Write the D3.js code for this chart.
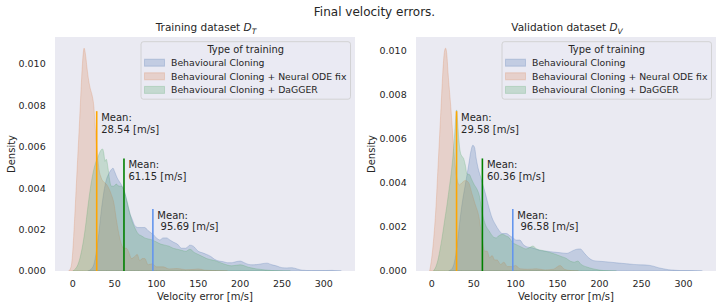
<!DOCTYPE html>
<html><head><meta charset="utf-8">
<script src="https://cdn.jsdelivr.net/npm/d3@7"></script>
<style>
html,body{margin:0;padding:0;background:#fff;}
svg{display:block;font-family:"DejaVu Sans",sans-serif;}
</style></head>
<body><svg id="c" width="723" height="308"></svg>
<script>
// ---------- data ----------
const seriesNames = ["Behavioural Cloning", "Behavioural Cloning + Neural ODE fix", "Behavioural Cloning + DaGGER"];
const legendTitle = "Type of training";
const xTicks = [0, 50, 100, 150, 200, 250, 300];
const yTicks = [0, 0.002, 0.004, 0.006, 0.008, 0.010];

// Training dataset: KDE points [velocity error, density]
const trainBC = [[18,0],[22,0.0001],[25,0.0003],[28,0.0009],[31,0.0018],[34,0.0029],[37,0.0038],[40,0.0044],[43,0.0047],[46,0.0049],[48,0.00497],[50,0.0048],[53,0.0045],[56,0.0043],[59,0.0041],[62,0.0038],[65,0.0033],[68,0.0028],[71,0.0025],[74,0.0022],[78,0.0021],[82,0.0021],[86,0.0021],[90,0.00195],[95,0.0018],[100,0.0016],[104,0.0015],[108,0.0016],[112,0.0016],[116,0.0015],[120,0.0014],[125,0.0013],[130,0.0011],[135,0.0011],[140,0.00125],[144,0.0012],[150,0.00095],[155,0.00088],[160,0.0008],[165,0.0007],[170,0.00055],[175,0.00048],[180,0.00045],[185,0.0004],[190,0.0004],[195,0.00045],[200,0.00048],[205,0.0004],[210,0.00032],[215,0.0003],[220,0.00031],[226,0.00035],[232,0.00038],[238,0.0003],[244,0.00024],[250,0.00016],[256,0.00015],[262,0.00016],[268,0.0001],[274,0.00004],[285,0.00002],[300,0.00002],[310,0.00003],[316,0.00001],[321,0]];
const trainODE = [[-5,0],[-3,0.0001],[-1,0.0005],[0,0.0010],[2,0.0024],[4,0.0040],[6,0.0056],[8,0.0072],[10,0.0089],[12,0.0103],[13.5,0.01077],[15,0.0105],[17,0.0098],[19,0.0092],[21,0.0088],[23,0.0085],[25,0.0080],[27,0.0068],[29,0.0058],[31,0.0050],[34,0.0045],[37,0.0043],[40,0.0042],[43,0.0040],[46,0.0037],[49,0.0033],[52,0.0025],[55,0.0018],[58,0.0013],[61,0.0011],[64,0.0011],[67,0.0009],[70,0.0006],[74,0.0007],[77,0.0008],[80,0.0005],[83,0.0006],[86,0.0006],[90,0.0003],[95,0.00035],[100,0.0002],[108,0.0002],[115,0.0001],[125,0.00012],[135,0.00006],[145,0.00008],[150,0.0001],[158,0.00004],[170,0.00002],[185,0]];
const trainDAG = [[0,0],[3,0.0001],[6,0.0003],[9,0.0007],[12,0.0013],[15,0.0021],[18,0.0031],[21,0.0040],[24,0.0047],[27,0.0052],[30,0.0055],[33,0.0058],[35.5,0.0059],[37,0.0057],[38.5,0.0053],[40,0.0054],[42,0.0050],[44,0.0044],[46,0.0041],[49,0.0041],[52,0.0042],[55,0.0041],[58,0.0041],[61,0.0039],[64,0.0035],[67,0.0030],[70,0.0025],[74,0.0021],[78,0.0018],[82,0.0017],[86,0.0016],[90,0.00155],[95,0.0015],[100,0.0014],[105,0.0013],[110,0.00125],[115,0.0012],[120,0.0011],[125,0.00105],[130,0.001],[135,0.00095],[140,0.00105],[145,0.0009],[150,0.0008],[155,0.0007],[160,0.0006],[170,0.0005],[180,0.00035],[190,0.00025],[200,0.0003],[210,0.00018],[220,0.0001],[230,0.00005],[245,0.00001],[260,0]];
const trainMeans = [95.69, 28.54, 61.15];

// Validation dataset
const valBC = [[20,0],[24,0.0001],[27,0.0004],[30,0.0011],[33,0.0021],[36,0.003],[39,0.0037],[41.3,0.0042],[44,0.0048],[46.5,0.0054],[49,0.0057],[51,0.0056],[53,0.0051],[56,0.00455],[58,0.0043],[61,0.0039],[64,0.0035],[68,0.0029],[72,0.0024],[76,0.0021],[80,0.00185],[84,0.0017],[89,0.0017],[93,0.0016],[97,0.0015],[101,0.0014],[105,0.0014],[109,0.0012],[113,0.0011],[120,0.00105],[129,0.00093],[137,0.0009],[145,0.00086],[153,0.00083],[161,0.0008],[167,0.0009],[172,0.00098],[177,0.001],[182,0.0008],[187,0.0006],[193,0.00047],[200,0.00044],[207,0.00042],[213,0.0004],[220,0.00037],[226,0.00035],[232,0.00033],[240,0.0003],[248,0.00028],[256,0.00027],[264,0.00022],[270,0.00015],[276,0.0001],[282,0.00006],[288,0.00004],[296,0.00002],[305,0.00002],[315,0.00001],[322.5,0]];
const valODE = [[-2.5,0],[0,0.0006],[2.4,0.0015],[5.2,0.003],[7.2,0.0045],[9.2,0.006],[11.2,0.0075],[13.2,0.009],[15,0.0099],[16.5,0.0101],[18,0.0098],[19.4,0.009],[22.6,0.0075],[25.4,0.006],[27.8,0.0048],[30,0.0042],[33,0.0039],[36,0.0040],[40,0.0041],[44,0.0040],[48,0.0035],[52,0.0030],[56,0.0025],[60,0.0015],[63,0.0009],[66,0.0009],[69,0.0006],[72,0.0007],[75,0.0005],[78,0.0005],[82,0.0003],[86,0.0004],[90,0.0002],[95,0.0002],[100,0.00025],[105,0.0001],[115,0.00008],[125,0.0001],[135,0.00005],[145,0.00008],[153,0.00025],[158,0.00008],[165,0.00002],[175,0]];
const valDAG = [[2,0],[5,0.0002],[8,0.0006],[10,0.001],[12.3,0.0015],[15,0.0022],[18.2,0.003],[21,0.0038],[23.4,0.0045],[25.5,0.0053],[27,0.006],[28.5,0.0069],[29.6,0.0073],[30.8,0.0068],[32.2,0.006],[34,0.0054],[36,0.0052],[38,0.0051],[40,0.0048],[42,0.0044],[44.9,0.00437],[47,0.0042],[50.8,0.0039],[54,0.0037],[56.8,0.0034],[59,0.0029],[61,0.0025],[64,0.0021],[68.7,0.0018],[72,0.0016],[76.7,0.0015],[80,0.0016],[84.6,0.00166],[88,0.0016],[92.5,0.0015],[96,0.0013],[100.5,0.0012],[106,0.0011],[112.4,0.001],[116,0.00105],[120.4,0.00113],[125,0.001],[132,0.00093],[140,0.00085],[148,0.00075],[155,0.00065],[160,0.00058],[165,0.00045],[170,0.0004],[174,0.00045],[178,0.0003],[185,0.00018],[192,0.0001],[200,0.00004],[210,0.00001],[220,0]];
const valMeans = [96.58, 29.58, 60.36];

// mean-line heights as fraction of axis height
const meanLineFrac = [0.265, 0.683, 0.481];

// ---------- styles ----------
const fillColors = ["#4C72B0", "#DD8452", "#55A868"];
const meanColors = ["#6495ED", "#FFA500", "#008000"];
const bg = "#EAEAF2", ink = "#262626";

const svg = d3.select("#c");
svg.append("rect").attr("width", 723).attr("height", 308).attr("fill", "#fff");

svg.append("text").attr("x", 374.5).attr("y", 16).attr("text-anchor", "middle")
  .attr("font-size", 12).attr("fill", ink).text("Final velocity errors.");

const panels = [
  {x0: 55, x1: 355, label: "Training dataset ", sub: "T", series: [trainBC, trainODE, trainDAG], means: trainMeans, ylab: 11},
  {x0: 416, x1: 716, label: "Validation dataset ", sub: "V", series: [valBC, valODE, valDAG], means: valMeans, ylab: 371}
];
const y0 = 37, y1 = 271;

panels.forEach(p => {
  const all = p.series.flat();
  const ext = d3.extent(all, d => d[0]);
  const pad = (ext[1] - ext[0]) * 0.05;
  const x = d3.scaleLinear().domain([ext[0] - pad, ext[1] + pad]).range([p.x0, p.x1]);
  const ymax = d3.max(all, d => d[1]) * 1.05;
  const y = d3.scaleLinear().domain([0, ymax]).range([y1, y0]);

  const g = svg.append("g");
  g.append("rect").attr("x", p.x0).attr("y", y0).attr("width", p.x1 - p.x0).attr("height", y1 - y0).attr("fill", bg);

  const defs = svg.append("defs");
  const cid = "clip" + p.x0;
  defs.append("clipPath").attr("id", cid).append("rect")
    .attr("x", p.x0).attr("y", y0).attr("width", p.x1 - p.x0).attr("height", y1 - y0);
  const plot = g.append("g").attr("clip-path", `url(#${cid})`);

  const area = d3.area().x(d => x(d[0])).y0(y(0)).y1(d => y(d[1])).curve(d3.curveMonotoneX);
  p.series.forEach((s, i) => {
    plot.append("path").attr("d", area(s)).attr("fill", fillColors[i]).attr("fill-opacity", 0.25)
      .attr("stroke", fillColors[i]).attr("stroke-opacity", 0.25).attr("stroke-width", 1);
  });

  // mean lines + labels
  p.means.forEach((m, i) => {
    const top = y0 + (y1 - y0) * (1 - meanLineFrac[i]);
    plot.append("line").attr("x1", x(m)).attr("x2", x(m)).attr("y1", y1).attr("y2", top)
      .attr("stroke", meanColors[i]).attr("stroke-width", 1.6);
    const t = g.append("text").attr("font-size", 10).attr("fill", ink);
    t.append("tspan").attr("x", x(m) + 4.5).attr("y", top + 10).text("Mean:");
    t.append("tspan").attr("x", x(m) + 4.5 + (i === 0 ? 3.2 : 0)).attr("y", top + 21.5).text(m.toFixed(2) + " [m/s]");
  });

  // ticks
  xTicks.forEach(v => {
    g.append("text").attr("x", x(v)).attr("y", 287).attr("text-anchor", "middle")
      .attr("font-size", 9.5).attr("fill", ink).text(v);
  });
  yTicks.forEach(v => {
    g.append("text").attr("x", p.x0 - 9.3).attr("y", y(v)).attr("dy", "0.35em").attr("text-anchor", "end")
      .attr("font-size", 9.5).attr("fill", ink).text(d3.format(".3f")(v));
  });

  // axis labels
  g.append("text").attr("x", (p.x0 + p.x1) / 2).attr("y", 299.5).attr("text-anchor", "middle")
    .attr("font-size", 10).attr("fill", ink).text("Velocity error [m/s]");
  g.append("text").attr("transform", `translate(${p.ylab + 3.5},${(y0 + y1) / 2}) rotate(-90)`)
    .attr("text-anchor", "middle").attr("font-size", 10).attr("fill", ink).text("Density");

  // panel title
  const tt = g.append("text").attr("x", (p.x0 + p.x1) / 2 + 1).attr("y", 31).attr("text-anchor", "middle")
    .attr("font-size", 10.5).attr("fill", ink);
  tt.append("tspan").text(p.label);
  tt.append("tspan").attr("font-style", "italic").text("D");
  tt.append("tspan").attr("font-style", "italic").attr("font-size", 7.5).attr("dy", 2.5).text(p.sub);

  // legend
  const lw = 209.5, lh = 57.5;
  const lx = p.x1 - 4.5 - lw, ly = y0 + 4.7;
  const lg = g.append("g");
  lg.append("rect").attr("x", lx).attr("y", ly).attr("width", lw).attr("height", lh).attr("rx", 2.5)
    .attr("fill", bg).attr("fill-opacity", 0.8).attr("stroke", "#cccccc").attr("stroke-width", 0.8);
  lg.append("text").attr("x", lx + lw / 2).attr("y", ly + 11).attr("text-anchor", "middle")
    .attr("font-size", 9.9).attr("fill", ink).text(legendTitle);
  seriesNames.forEach((n, i) => {
    const cy = ly + 21 + i * 13.6;
    lg.append("rect").attr("x", lx + 3.5).attr("y", cy - 3.5).attr("width", 20).attr("height", 7)
      .attr("fill", fillColors[i]).attr("fill-opacity", 0.25).attr("stroke", fillColors[i]).attr("stroke-opacity", 0.25);
    lg.append("text").attr("x", lx + 30).attr("y", cy).attr("dy", "0.35em")
      .attr("font-size", 9.3).attr("fill", ink).text(n);
  });
});
</script></body></html>
